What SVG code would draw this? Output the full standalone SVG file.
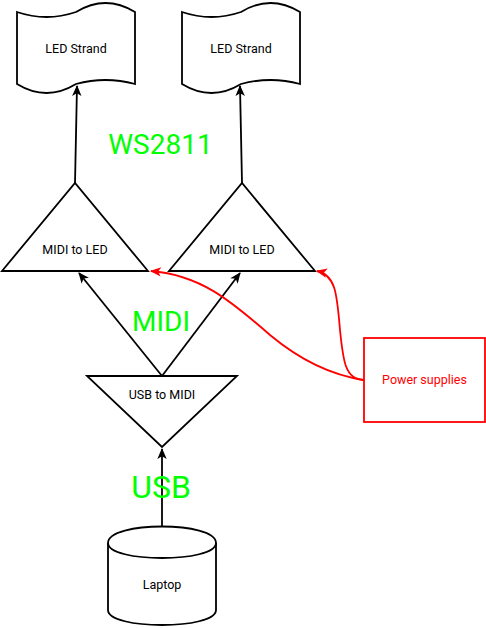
<svg xmlns="http://www.w3.org/2000/svg" width="486" height="628" viewBox="0 0 486 628">
<style>
.s{fill:#fff;stroke:#000;stroke-width:1.8;stroke-linejoin:miter}
.t{font-family:Roboto,"Liberation Sans",sans-serif;font-size:12.5px;fill:#000;text-anchor:middle}
.g{font-family:Roboto,"Liberation Sans",sans-serif;fill:#00ff00;text-anchor:middle}
.e{fill:none;stroke:#000;stroke-width:1.8}
.r{fill:none;stroke:#ff0000;stroke-width:1.8}
</style>
<defs>
<marker id="ab" markerUnits="userSpaceOnUse" markerWidth="13" markerHeight="13" viewBox="0 0 13 13" refX="11" refY="6.5" orient="auto"><path d="M1,1.8 L12,6.5 L1,11.2 L3.8,6.5 Z" fill="#000"/></marker>
<marker id="ar" markerUnits="userSpaceOnUse" markerWidth="13" markerHeight="13" viewBox="0 0 13 13" refX="11" refY="6.5" orient="auto"><path d="M1,1.8 L12,6.5 L1,11.2 L3.8,6.5 Z" fill="#ff0000"/></marker>
<path id="tape" d="M0,12 Q29.5,22 59,12 Q88.5,-6 118,12 L118,84 Q88.5,76 59,84 Q29.5,102 0,84 Z"/>
</defs>
<g id="strand1"><use href="#tape" x="17" y="0" class="s"/><text class="t" x="76" y="53">LED Strand</text></g>
<g id="strand2"><use href="#tape" x="182" y="0" class="s"/><text class="t" x="241" y="53">LED Strand</text></g>
<g id="midi2led1"><path class="s" d="M2,271 L75,183 L148,271 Z"/><text class="t" x="75" y="254">MIDI to LED</text></g>
<g id="midi2led2"><path class="s" d="M169,271 L242,183 L315,271 Z"/><text class="t" x="242" y="254">MIDI to LED</text></g>
<g id="usb2midi"><path class="s" d="M87,376 L237,376 L162,447 Z"/><text class="t" x="162" y="399">USB to MIDI</text></g>
<g id="laptop"><path class="s" d="M108,543 C108,521 216,521 216,543 L216,610 C216,630 108,630 108,610 Z"/><path class="e" d="M108,543 C108,563 216,563 216,543"/><text class="t" x="162" y="589">Laptop</text></g>
<g id="power"><rect x="364" y="338" width="121" height="84" fill="#fff" stroke="#ff0000" stroke-width="1.8"/><text class="t" x="424.5" y="384" style="fill:#ff0000">Power supplies</text></g>
<g id="connectors">
<path class="e" d="M75,183 L77,86" marker-end="url(#ab)"/>
<path class="e" d="M242,183 L240,86" marker-end="url(#ab)"/>
<path class="e" d="M162,376 L79,273" marker-end="url(#ab)"/>
<path class="e" d="M162,376 L240,273" marker-end="url(#ab)"/>
<path class="e" d="M162,527 L162,449" marker-end="url(#ab)"/>
<path class="r" d="M364,380 C330,375 300,360 270,335 C230,300 200,275 151,271" marker-end="url(#ar)"/>
<path class="r" d="M364,380 C345,380 343,360 340,330 C337,295 336,275 317,271" marker-end="url(#ar)"/>
</g>
<g id="labels">
<text class="g" x="160.5" y="154" font-size="28">WS2811</text>
<text class="g" x="161" y="331" font-size="28">MIDI</text>
<text class="g" x="161" y="498" font-size="32">USB</text>
</g>
</svg>
